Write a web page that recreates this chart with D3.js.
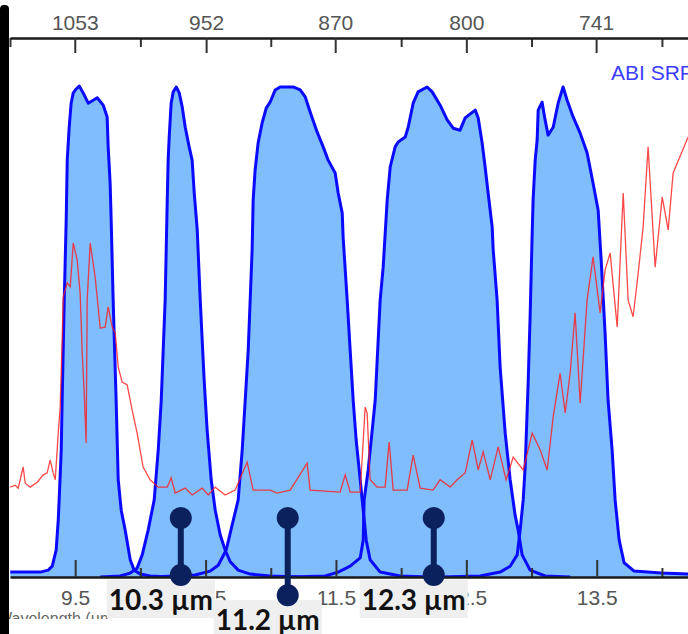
<!DOCTYPE html>
<html>
<head>
<meta charset="utf-8">
<script src="https://cdn.jsdelivr.net/npm/d3@7"></script>
<style>
  body { margin: 0; background: #fff; }
  svg { display: block; }
  .axis text { font-family: "Liberation Sans", Arial, sans-serif; font-size: 21px; fill: #555; }
  .axis line { stroke: #333; stroke-width: 2; }
  .axis path { stroke: #1a1a1a; stroke-width: 2.5; }
</style>
</head>
<body>
<div id="chart"></div>
<script>
// ABI spectral response functions, [wavelength (um), relative response]
const band96 = [[9.002,0.010],[9.232,0.010],[9.293,0.014],[9.324,0.022],[9.354,0.055],[9.370,0.116],[9.377,0.157],
  [9.393,0.259],[9.400,0.360],[9.416,0.564],[9.431,0.727],[9.439,0.849],[9.454,0.916],[9.469,0.965],[9.485,0.986],
  [9.508,0.994],[9.531,1.000],[9.561,0.986],[9.600,0.965],[9.638,0.971],[9.669,0.976],[9.715,0.961],[9.745,0.937],
  [9.753,0.876],[9.768,0.802],[9.776,0.727],[9.791,0.564],[9.814,0.360],[9.830,0.198],[9.853,0.136],[9.883,0.096],
  [9.922,0.035],[9.952,0.014],[9.998,0.006],[10.075,0.002],[10.229,0]];
const band103 = [[9.692,0],[9.845,0.002],[9.922,0.008],[9.975,0.018],[10.014,0.045],[10.060,0.096],[10.106,0.157],
  [10.137,0.259],[10.160,0.360],[10.175,0.462],[10.190,0.564],[10.198,0.666],[10.206,0.768],[10.213,0.849],
  [10.221,0.896],[10.236,0.965],[10.252,0.988],[10.275,0.998],[10.298,0.986],[10.321,0.957],[10.344,0.916],
  [10.374,0.876],[10.397,0.849],[10.413,0.782],[10.436,0.707],[10.459,0.564],[10.489,0.401],[10.512,0.299],
  [10.543,0.198],[10.574,0.136],[10.612,0.086],[10.650,0.055],[10.689,0.031],[10.750,0.014],[10.842,0.006],
  [10.995,0.002],[11.226,0]];
const band112 = [[10.075,0],[10.267,0.002],[10.420,0.004],[10.535,0.012],[10.597,0.024],[10.658,0.055],[10.704,0.106],
  [10.750,0.157],[10.781,0.259],[10.804,0.360],[10.827,0.462],[10.842,0.564],[10.857,0.666],[10.865,0.768],
  [10.880,0.829],[10.903,0.884],[10.934,0.925],[10.965,0.955],[10.995,0.967],[11.034,0.992],[11.072,0.998],
  [11.172,0.998],[11.226,0.992],[11.264,0.978],[11.302,0.947],[11.356,0.906],[11.402,0.876],[11.440,0.849],
  [11.494,0.823],[11.517,0.782],[11.548,0.741],[11.555,0.692],[11.586,0.564],[11.609,0.462],[11.632,0.360],
  [11.655,0.279],[11.686,0.198],[11.709,0.136],[11.732,0.075],[11.762,0.035],[11.839,0.010],[11.992,0.002],[12.222,0]];
const band123 = [[11.149,0],[11.417,0.002],[11.517,0.010],[11.609,0.022],[11.686,0.039],[11.709,0.075],[11.716,0.157],
  [11.747,0.218],[11.778,0.299],[11.801,0.360],[11.839,0.564],[11.862,0.631],[11.893,0.768],[11.916,0.835],
  [11.954,0.876],[11.977,0.886],[12.031,0.896],[12.054,0.916],[12.092,0.965],[12.130,0.988],[12.199,0.998],
  [12.238,0.988],[12.299,0.961],[12.353,0.931],[12.399,0.914],[12.452,0.910],[12.491,0.935],[12.568,0.951],
  [12.591,0.935],[12.621,0.884],[12.644,0.835],[12.667,0.782],[12.698,0.713],[12.706,0.666],[12.736,0.564],
  [12.759,0.428],[12.798,0.293],[12.836,0.198],[12.874,0.126],[12.897,0.096],[12.928,0.045],[12.989,0.014],
  [13.104,0.002],[13.296,0]];
const band133 = [[12.299,0],[12.606,0.002],[12.759,0.010],[12.836,0.022],[12.890,0.045],[12.913,0.096],[12.936,0.157],
  [12.951,0.224],[12.974,0.395],[12.989,0.530],[13.005,0.701],[13.012,0.768],[13.028,0.849],[13.043,0.890],
  [13.051,0.951],[13.081,0.967],[13.104,0.931],[13.127,0.900],[13.166,0.916],[13.204,0.965],[13.242,0.998],
  [13.273,0.971],[13.319,0.937],[13.373,0.904],[13.426,0.864],[13.472,0.802],[13.511,0.747],[13.534,0.646],
  [13.564,0.497],[13.587,0.360],[13.618,0.259],[13.641,0.157],[13.672,0.075],[13.710,0.029],[13.787,0.012],
  [13.994,0.008],[14.201,0.006]];

// red spectrum, same relative units
const spectrum = [[9.002,0.183],[9.040,0.187],[9.063,0.181],[9.101,0.224],[9.117,0.191],[9.155,0.183],[9.209,0.193],
  [9.255,0.208],[9.285,0.212],[9.308,0.238],[9.331,0.212],[9.347,0.198],[9.370,0.293],[9.385,0.346],[9.400,0.483],
  [9.408,0.570],[9.439,0.599],[9.462,0.591],[9.485,0.680],[9.515,0.646],[9.538,0.578],[9.554,0.456],[9.569,0.375],
  [9.584,0.273],[9.592,0.564],[9.615,0.680],[9.653,0.611],[9.692,0.507],[9.730,0.509],[9.753,0.550],[9.784,0.509],
  [9.807,0.497],[9.830,0.428],[9.860,0.397],[9.899,0.391],[9.937,0.340],[9.975,0.293],[10.021,0.224],[10.075,0.198],
  [10.137,0.183],[10.206,0.183],[10.236,0.202],[10.267,0.171],[10.344,0.181],[10.397,0.167],[10.474,0.181],
  [10.520,0.167],[10.574,0.183],[10.650,0.167],[10.727,0.177],[10.819,0.234],[10.865,0.177],[10.995,0.177],
  [11.049,0.171],[11.149,0.177],[11.279,0.232],[11.302,0.177],[11.532,0.173],[11.571,0.208],[11.609,0.173],
  [11.686,0.173],[11.724,0.346],[11.739,0.334],[11.762,0.198],[11.816,0.183],[11.877,0.183],[11.908,0.275],
  [11.939,0.177],[12.046,0.177],[12.092,0.248],[12.146,0.181],[12.245,0.177],[12.299,0.198],[12.376,0.183],
  [12.429,0.198],[12.491,0.212],[12.545,0.279],[12.591,0.218],[12.629,0.255],[12.683,0.198],[12.744,0.265],
  [12.805,0.198],[12.859,0.244],[12.936,0.218],[13.005,0.293],[13.066,0.259],[13.120,0.218],[13.166,0.326],
  [13.219,0.415],[13.258,0.334],[13.296,0.415],[13.334,0.538],[13.373,0.354],[13.426,0.564],[13.472,0.652],
  [13.526,0.538],[13.564,0.625],[13.603,0.660],[13.657,0.509],[13.703,0.782],[13.741,0.564],[13.779,0.530],
  [13.818,0.619],[13.856,0.713],[13.894,0.876],[13.948,0.631],[14.002,0.774],[14.048,0.707],[14.086,0.823],
  [14.201,0.896]];

const wavenumberTicks = [1053, 952, 870, 800, 741];
const topMinorTicks = [9, 10, 11, 12, 13, 14];
const wavelengthTicks = [9.5, 10.5, 11.5, 12.5, 13.5];
const bottomMinorTicks = [10, 11, 12, 13, 14];

const pinLabels = ['10.3 µm', '11.2 µm', '12.3 µm'];
const pinAt = [10.31, 11.13, 12.25];
const pinTop = [0.12, 0.12, 0.12];
const pinBottom = [0.004, -0.037, 0.004];

const width = 688;
const height = 634;
const bands = [band96, band103, band112, band123, band133];

const x = d3.scaleLinear().domain([9.0, 14.2]).range([10, 688]);
const y = d3.scaleLinear().domain([0, 1]).range([577, 86]);

const svg = d3.select('#chart').append('svg')
  .attr('width', width)
  .attr('height', height);

svg.append('rect').attr('width', width).attr('height', height).attr('fill', '#fff');

svg.append('clipPath')
  .attr('id', 'plot-clip')
  .append('rect')
  .attr('x', 9).attr('y', 39)
  .attr('width', width - 9).attr('height', y(0) - 39);

const plot = svg.append('g').attr('clip-path', 'url(#plot-clip)');

const area = d3.area()
  .x(d => x(d[0]))
  .y0(y(0))
  .y1(d => y(d[1]));

const line = d3.line()
  .x(d => x(d[0]))
  .y(d => y(d[1]));

plot.selectAll('.srf-fill')
  .data(bands)
  .enter()
  .append('path')
  .attr('class', 'srf-fill')
  .attr('d', area)
  .attr('fill', '#80bdfd');

plot.selectAll('.srf-line')
  .data(bands)
  .enter()
  .append('path')
  .attr('class', 'srf-line')
  .attr('d', line)
  .attr('fill', 'none')
  .attr('stroke', '#0a0aff')
  .attr('stroke-width', 3)
  .attr('stroke-linejoin', 'round');

plot.append('path')
  .datum(spectrum)
  .attr('d', line)
  .attr('fill', 'none')
  .attr('stroke', '#ff1a1a')
  .attr('stroke-opacity', 0.8)
  .attr('stroke-width', 1.3);

// top axis: wavenumber (cm-1) placed at 1e4/wn
svg.append('g')
  .attr('class', 'axis')
  .attr('transform', 'translate(0,38)')
  .call(d3.axisTop(x)
    .tickValues(topMinorTicks)
    .tickSize(-9)
    .tickSizeOuter(0)
    .tickFormat(''))
  .call(g => g.select('.domain').remove());

svg.append('g')
  .attr('class', 'axis')
  .attr('transform', 'translate(0,38)')
  .call(d3.axisTop(x)
    .tickValues(wavenumberTicks.map(d => 1e4 / d))
    .tickSize(-15)
    .tickSizeOuter(0)
    .tickPadding(8)
    .tickFormat(d => Math.round(1e4 / d)));

// bottom axis: wavelength (um)
svg.append('g')
  .attr('class', 'axis')
  .attr('transform', `translate(0,${y(0)})`)
  .call(d3.axisBottom(x)
    .tickValues(bottomMinorTicks)
    .tickSize(-9)
    .tickSizeOuter(0)
    .tickFormat(''))
  .call(g => g.select('.domain').remove());

svg.append('g')
  .attr('class', 'axis')
  .attr('transform', `translate(0,${y(0)})`)
  .call(d3.axisBottom(x)
    .tickValues(wavelengthTicks)
    .tickSize(-17)
    .tickSizeOuter(0)
    .tickPadding(13)
    .tickFormat(d3.format('.1f')));

svg.append('text')
  .attr('x', 611)
  .attr('y', 80)
  .style('font-family', '"Liberation Sans", Arial, sans-serif')
  .style('font-size', '21px')
  .style('fill', '#3c3cff')
  .text('ABI SRF');

// axis title, cut off at the bottom of the crop
svg.append('clipPath')
  .attr('id', 'title-clip')
  .append('rect')
  .attr('x', 0).attr('y', 600)
  .attr('width', 110).attr('height', 19);

svg.append('text')
  .attr('x', -3)
  .attr('y', 624)
  .attr('clip-path', 'url(#title-clip)')
  .style('font-family', '"Liberation Sans", Arial, sans-serif')
  .style('font-size', '16px')
  .style('fill', '#666')
  .text('Wavelength (µm)');

// black edge on the left
svg.append('rect')
  .attr('x', 0).attr('y', 5)
  .attr('width', 9).attr('height', height)
  .attr('rx', 4)
  .attr('fill', '#000');

// channel pins and labels
const pins = svg.selectAll('.pin')
  .data(pinLabels)
  .enter()
  .append('g')
  .attr('class', 'pin');

pins.each(function (label, i) {
  const g = d3.select(this);
  const px = x(pinAt[i]);
  const top = y(pinTop[i]);
  const bottom = y(pinBottom[i]);

  const box = g.append('rect').attr('fill', '#efefef');
  const txt = g.append('text')
    .attr('x', px - 20)
    .attr('y', bottom + 35)
    .attr('text-anchor', 'middle')
    .style('font-family', 'Lato, "Open Sans", sans-serif')
    .style('font-weight', 'bold')
    .style('font-size', '28px')
    .style('fill', '#111')
    .text(label);
  const bb = txt.node().getBBox();
  box.attr('x', bb.x - 2)
    .attr('y', bottom + 5)
    .attr('width', bb.width + 4)
    .attr('height', 38);

  g.append('line')
    .attr('x1', px).attr('x2', px)
    .attr('y1', top).attr('y2', bottom)
    .attr('stroke', '#0a215e')
    .attr('stroke-width', 6);

  g.selectAll('circle')
    .data([top, bottom])
    .enter()
    .append('circle')
    .attr('cx', px)
    .attr('cy', d => d)
    .attr('r', 11)
    .attr('fill', '#0a215e');
});
</script>
</body>
</html>
